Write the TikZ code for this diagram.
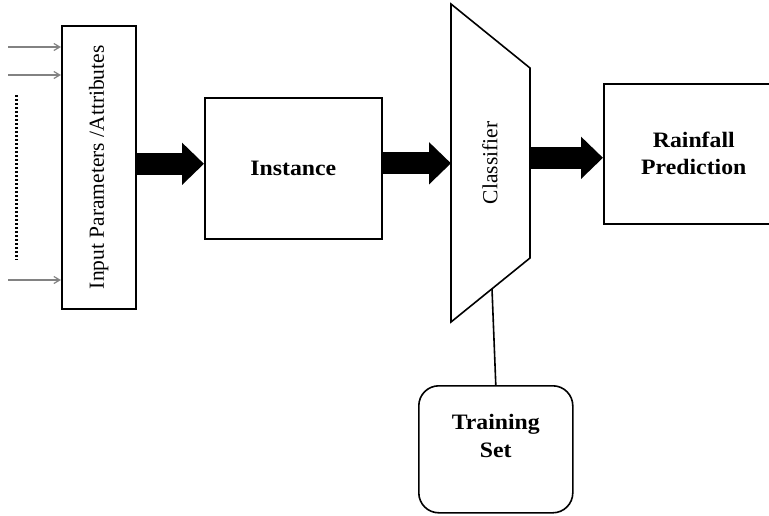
\documentclass[tikz,border=0pt]{standalone}
\usepackage{fontspec}
\setmainfont{Liberation Serif}
\newfontfamily\widebf[FakeStretch=1.08]{Liberation Serif}
\usepackage{tikz}
\usetikzlibrary{arrows.meta,positioning,calc}
\definecolor{ingray}{RGB}{130,130,130}
\tikzset{
  blk/.style={draw=black, line width=1.6pt, fill=white, inner sep=4pt, font=\widebf\fontsize{22}{27}\selectfont\bfseries, align=center},
  rblk/.style={blk, rounded corners=20pt},
  fat/.style={-{Triangle[length=22pt,width=41pt]}, line width=22pt},
  inarr/.style={-{Straight Barb[length=6pt,width=7pt]}, ingray, line width=1.2pt},
}
\begin{document}
\begin{tikzpicture}[x=1pt, y=-1pt, font=\fontsize{21.5}{26}\selectfont]
  \useasboundingbox (0,0) rectangle (769,515);
  % boxes
  \node[blk, minimum width=74pt, minimum height=283pt, anchor=north west] (inp) at (61,25) {};
  \node[rotate=90] (inptxt) at (inp.center) {Input Parameters /Attributes};
  \node[blk, minimum width=177pt, minimum height=141pt, anchor=north west] (inst) at (204,97) {Instance};
  \node[blk, minimum width=180pt, minimum height=140pt, anchor=north west] (rain) at (603,83) {Rainfall\\Prediction};
  \node[rblk, minimum width=154pt, minimum height=127pt, anchor=north west] (train) at (418,385) {};
  \node[font=\widebf\fontsize{22}{28}\selectfont\bfseries, align=center, anchor=north] (traintxt) at ([yshift=-26pt]train.north) {Training\\Set};
  % classifier
  \coordinate (c1) at (451,4);
  \coordinate (c2) at (530,68);
  \coordinate (c3) at (530,258);
  \coordinate (c4) at (451,322);
  \draw[line width=1.6pt, fill=white] (c1) -- (c2) -- (c3) -- (c4) -- cycle;
  \node[rotate=90] (cls) at (490,163) {Classifier};
  \coordinate (clb) at (492,289);
  % inputs
  \coordinate (a1) at (8,47);
  \coordinate (a2) at (8,75);
  \coordinate (a3) at (8,280);
  \draw[inarr] (a1) -- (a1 -| inp.west);
  \draw[inarr] (a2) -- (a2 -| inp.west);
  \draw[inarr] (a3) -- (a3 -| inp.west);
  \coordinate (d1) at (16,95);
  \coordinate (d2) at (16,260);
  \draw[line width=3pt, dash pattern=on 2pt off 2pt] (d1) -- (d2);
  % flow
  \draw[fat] ([yshift=4.5pt]inp.east |- inst.west) -- ([yshift=4.5pt]inst.west);
  \draw[fat] ([yshift=5pt]inst.east) -- ([yshift=5pt]inst.east -| c1);
  \draw[fat] ([yshift=-4pt]c2 |- rain.west) -- ([yshift=-4pt]rain.west);
  \draw[line width=1.6pt] (clb) -- (train.north);
\end{tikzpicture}
\end{document}
